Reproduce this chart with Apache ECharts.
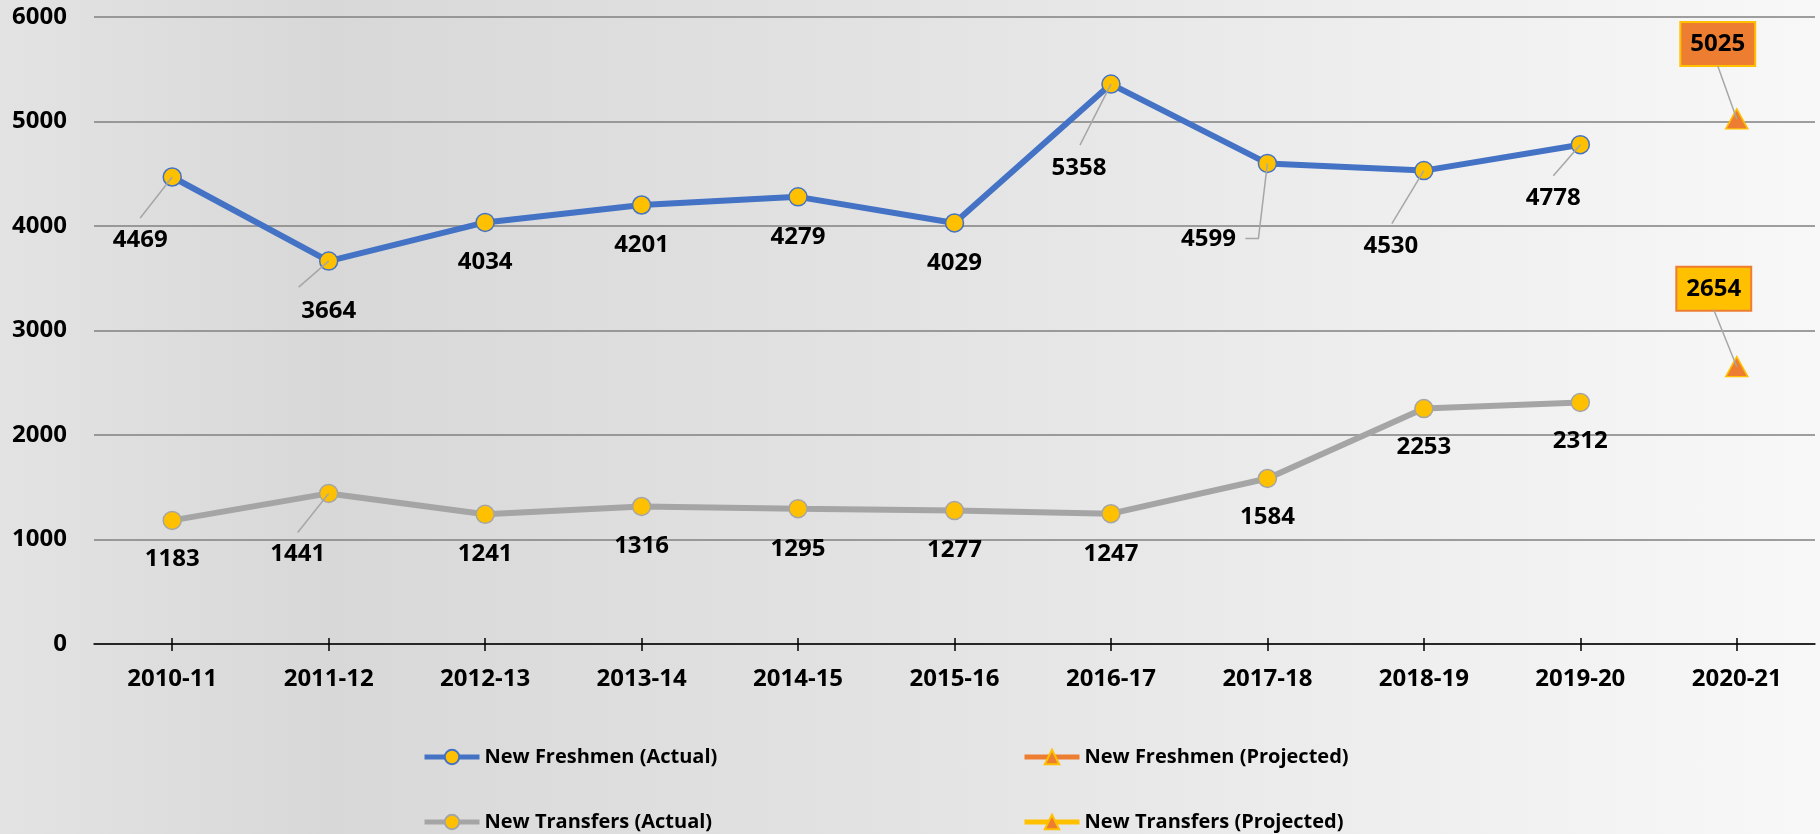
<!DOCTYPE html>
<html><head><meta charset="utf-8">
<script src="https://cdn.jsdelivr.net/npm/echarts@6/dist/echarts.min.js"></script>
<style>
html,body{margin:0;padding:0;}
#c{width:1820px;height:834px;background:linear-gradient(90deg,#e3e3e3 0%,#d8d8d8 18%,#e3e3e3 50%,#f8f8f8 100%);}
</style>
</head><body><div id="c"></div>
<script>
const categories = ['2010-11','2011-12','2012-13','2013-14','2014-15','2015-16','2016-17','2017-18','2018-19','2019-20','2020-21'];
const freshmenActual = [4469,3664,4034,4201,4279,4029,5358,4599,4530,4778,null];
const freshmenProjected = [null,null,null,null,null,null,null,null,null,null,5025];
const transfersActual = [1183,1441,1241,1316,1295,1277,1247,1584,2253,2312,null];
const transfersProjected = [null,null,null,null,null,null,null,null,null,null,2654];
const yMin = 0, yMax = 6000, yStep = 1000;

// label placement (styling only, pixel offsets from the marker)
const freshOffsets = [[-32,63],[0,50],[0,40],[0,40],[0,40],[0,40],[-32,84],[-59,76],[-33,76],[-27,53],[-19,-75]];
const transOffsets = [[0,39],[-31,61],[0,40],[0,40],[0,40],[0,40],[0,40],[0,39],[0,39],[0,39],[-23,-78]];
// leader-line shapes (pixel offsets from the marker), by category index
const freshLeaders = {0: [[0,0],[-32,41]], 1: [[0,0],[-30,26]], 6: [[0,0],[-31,61]], 7: [[0,0],[-9,75],[-22,75]],
                      8: [[0,0],[-32,53]], 9: [[0,0],[-27,31]], 10: [[0,0],[-19,-53]]};
const transLeaders = {1: [[0,0],[-31,39]], 10: [[0,0],[-23,-57]]};

const FONT = "'Open Sans', 'DejaVu Sans', sans-serif";
const BLUE = '#4472C4', GRAY = '#A5A5A5', ORANGE = '#ED7D31', GOLD = '#FFC000';

function buildData(values, offsets, boxStyle) {
  return values.map((v, i) => {
    if (v == null) return null;
    const item = {value: v, label: {offset: offsets[i]}};
    if (boxStyle) Object.assign(item.label, boxStyle);
    return item;
  });
}
function leaderData(values, leaders) {
  const out = [];
  values.forEach((v, i) => { if (v != null && leaders[i]) out.push([i, v]); });
  return out;
}
function leaderSeries(values, leaders) {
  return {
    type: 'custom', z: 6, silent: true,
    data: leaderData(values, leaders),
    encode: {x: 0, y: 1},
    renderItem: function (params, api) {
      const idx = api.value(0);
      const p = api.coord([idx, api.value(1)]);
      const shape = leaders[idx];
      return {
        type: 'polyline',
        shape: {points: shape.map(o => [p[0] + o[0], p[1] + o[1]])},
        style: {stroke: '#A6A6A6', lineWidth: 1.5, fill: null}
      };
    }
  };
}

const labelBase = {
  show: true, position: 'inside', color: '#000', fontFamily: FONT,
  fontWeight: 'bold', fontSize: 24, lineHeight: 26
};
const legendText = {color: '#000', fontFamily: FONT, fontWeight: 'bold', fontSize: 20, lineHeight: 20};

const chart = echarts.init(document.getElementById('c'), null, {renderer: 'canvas'});
chart.setOption({
  backgroundColor: 'transparent',
  animation: false,
  grid: {left: 94, right: 5, top: 17, bottom: 190, containLabel: false},
  xAxis: [{
    type: 'category', data: categories, boundaryGap: true,
    axisLine: {show: true, lineStyle: {color: '#000', width: 1.5}},
    axisTick: {show: true, alignWithLabel: true, length: 7, lineStyle: {color: '#000', width: 1.5}},
    axisLabel: {color: '#000', fontFamily: FONT, fontWeight: 'bold', fontSize: 24, lineHeight: 26, margin: 22},
    splitLine: {show: false}
  }, {
    type: 'category', data: categories, boundaryGap: true, position: 'bottom',
    axisLine: {show: false},
    axisTick: {show: true, inside: true, alignWithLabel: true, length: 6, lineStyle: {color: '#000', width: 1.5}},
    axisLabel: {show: false}, splitLine: {show: false}
  }],
  yAxis: {
    type: 'value', min: yMin, max: yMax, interval: yStep,
    axisLine: {show: false}, axisTick: {show: false},
    axisLabel: {color: '#000', fontFamily: FONT, fontWeight: 'bold', fontSize: 24, margin: 27,
                formatter: v => String(v)},
    splitLine: {show: true, lineStyle: {color: '#808080', width: 1.5}}
  },
  legend: [{
    data: ['New Freshmen (Actual)', 'New Transfers (Actual)'],
    orient: 'vertical', left: 422, top: 747, height: 90, padding: 0, itemGap: 45,
    itemWidth: 55, itemHeight: 18, lineStyle: {width: 5},
    textStyle: legendText
  }, {
    data: ['New Freshmen (Projected)', 'New Transfers (Projected)'],
    orient: 'vertical', left: 1022, top: 747, height: 90, padding: 0, itemGap: 45,
    itemWidth: 55, itemHeight: 18, lineStyle: {width: 5},
    textStyle: legendText
  }],
  series: [{
    name: 'New Freshmen (Actual)', type: 'line', z: 3,
    data: buildData(freshmenActual, freshOffsets),
    symbol: 'circle', symbolSize: 18,
    lineStyle: {color: BLUE, width: 6},
    itemStyle: {color: GOLD, borderColor: BLUE, borderWidth: 1.5},
    label: labelBase
  }, {
    name: 'New Freshmen (Projected)', type: 'line', z: 4,
    data: buildData(freshmenProjected, freshOffsets,
      {backgroundColor: ORANGE, borderColor: GOLD, borderWidth: 2, padding: [8, 9]}),
    symbol: 'triangle', symbolSize: [22, 20],
    lineStyle: {color: ORANGE, width: 6},
    itemStyle: {color: ORANGE, borderColor: GOLD, borderWidth: 1.5},
    label: labelBase
  }, {
    name: 'New Transfers (Actual)', type: 'line', z: 3,
    data: buildData(transfersActual, transOffsets),
    symbol: 'circle', symbolSize: 18,
    lineStyle: {color: GRAY, width: 6},
    itemStyle: {color: GOLD, borderColor: GRAY, borderWidth: 1.5},
    label: labelBase
  }, {
    name: 'New Transfers (Projected)', type: 'line', z: 4,
    data: buildData(transfersProjected, transOffsets,
      {backgroundColor: GOLD, borderColor: ORANGE, borderWidth: 2, padding: [8, 9]}),
    symbol: 'triangle', symbolSize: [22, 20],
    lineStyle: {color: GOLD, width: 6},
    itemStyle: {color: ORANGE, borderColor: GOLD, borderWidth: 1.5},
    label: labelBase
  },
  leaderSeries(freshmenActual, freshLeaders),
  leaderSeries(freshmenProjected, freshLeaders),
  leaderSeries(transfersActual, transLeaders),
  leaderSeries(transfersProjected, transLeaders)
  ]
});
</script>
</body></html>
